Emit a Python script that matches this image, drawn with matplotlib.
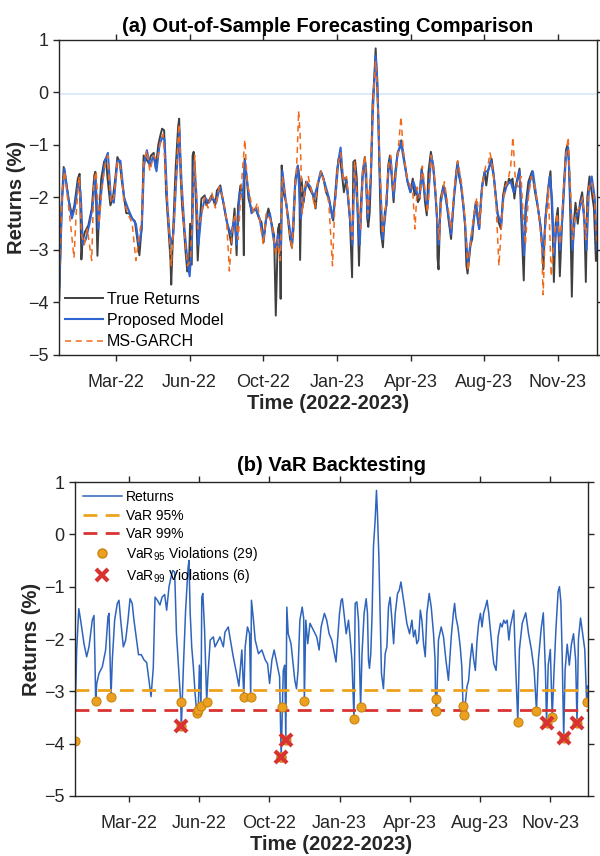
import matplotlib
matplotlib.use("Agg")
import matplotlib.pyplot as plt
from matplotlib.lines import Line2D

plt.rcParams['font.family'] = ['Liberation Sans', 'DejaVu Sans']
plt.rcParams['mathtext.fontset'] = 'custom'
plt.rcParams['mathtext.rm'] = 'Liberation Sans'

# x axis: calendar day index from 1 Jan 2022
tick_days = [77, 177, 277, 377, 477, 577, 677]
tick_labels = ['Mar-22', 'Jun-22', 'Oct-22', 'Jan-23', 'Apr-23', 'Aug-23', 'Nov-23']

# true returns (%)
ret_days = [0, 3, 6, 8.6, 13.4, 17.2, 20.5, 25.2, 27.6, 29, 30, 31.5, 34.7, 39.5, 44.2, 47.5, 49, 50.5,
            51.8, 53.7, 57, 60.8, 63.2, 65.6, 69.4, 72.7, 76, 78.9, 82, 84.5, 88.3, 91, 95, 98.8, 102.6,
            105.9, 108.8, 112, 114.5, 117.8, 121.5, 124.5, 128.2, 131, 134.4, 136.7, 139.6, 142.4, 145,
            148.6, 151, 152, 154.8, 158, 161.4, 162.8, 164.5, 166.7, 169, 171.5, 173.8, 176, 177.6, 179.9,
            181, 182.5, 185, 188, 189.7, 193, 197.5, 199.8, 202, 206.9, 211.7, 214, 218.7, 221, 225.8,
            230.5, 233.8, 238, 240.8, 242.8, 246, 249, 250.6, 251.7, 254.6, 257, 261.7, 266.5, 271.3,
            274.6, 277.5, 280.8, 284, 287.9, 291.7, 294, 295.7, 297, 299, 300.6, 302, 304, 308, 311,
            313.4, 315.8, 318, 320.6, 323.9, 326, 327, 329, 331.8, 335, 339.8, 344.6, 348, 350.8, 355.5,
            358.8, 362.2, 366, 369.8, 372, 374.6, 377, 379.3, 381, 384, 386.5, 389.8, 392, 394.6, 397.6,
            399.3, 401.7, 404, 406, 407, 409, 412, 414.9, 416.8, 418.2, 419.6, 421.5, 423.4, 425.3,
            427.7, 429.6, 431, 433, 434.8, 436.7, 439.5, 442, 444.4, 446.7, 449, 451.6, 454, 456.3,
            459.6, 462, 464.4, 466.7, 469.6, 472.8, 476.7, 480, 482.3, 484.7, 487, 489.5, 492, 494.2,
            496.6, 499, 501.3, 504.6, 507.5, 510.8, 513, 513.6, 515, 517.8, 521.7, 525, 528.4, 532, 536,
            539, 540.8, 542.6, 545.5, 548.8, 551, 552.8, 554.4, 558.4, 560.7, 563, 565.5, 568, 570.3,
            572.7, 575, 577.5, 579.8, 582, 584.6, 587, 589.4, 591.7, 594, 596.5, 599.8, 602.6, 606,
            608.3, 610.7, 613, 615.5, 618, 620, 625, 627, 630.7, 633, 637, 642, 646, 650, 654, 657.3,
            660, 664, 667, 670, 671.6, 674, 677, 679.7, 682, 685, 688, 690, 692, 694, 696, 698, 701,
            704, 707, 710, 713, 715, 717, 720, 723, 726, 728.7, 730]
ret_vals = [-3.95, -2.2, -1.42, -1.64, -2.09, -2.34, -2.15, -1.64, -1.55, -2.4, -3.18, -2.85, -2.66,
            -2.53, -2.21, -1.58, -1.51, -2.4, -3.11, -2.4, -1.64, -1.32, -1.26, -1.64, -2.15, -2.02,
            -1.64, -1.23, -1.32, -1.64, -2.02, -2.3, -2.3, -2.4, -2.45, -2.79, -3.1, -2.55, -1.2, -1.26,
            -1.35, -1.2, -1.15, -1.45, -1.0, -0.85, -0.69, -0.72, -1.9, -2.66, -3.2, -3.66, -2.55, -1.45,
            -0.65, -0.5, -1.5, -2.15, -2.53, -3.04, -3.41, -3.36, -2.5, -3.28, -1.2, -1.13, -1.83, -3.2,
            -2.72, -2.02, -1.96, -2.15, -2.09, -1.96, -2.15, -1.87, -1.77, -1.96, -2.34, -2.66, -2.9,
            -2.21, -3.1, -2.15, -1.77, -1.9, -3.1, -1.26, -1.64, -2.02, -2.28, -2.21, -2.4, -2.47, -2.85,
            -2.4, -2.21, -2.47, -2.72, -4.25, -3.3, -2.6, -2.5, -3.93, -1.39, -1.9, -2.09, -2.47, -2.79,
            -2.95, -2.6, -1.64, -1.39, -1.6, -3.19, -1.64, -2.09, -1.7, -1.83, -1.96, -2.21, -1.77, -1.51,
            -1.64, -1.9, -2.02, -2.28, -2.44, -1.96, -1.51, -1.26, -1.23, -1.58, -1.9, -1.64, -1.96, -2.4,
            -3.52, -1.32, -1.29, -1.64, -2.79, -3.3, -2.28, -1.51, -1.23, -1.51, -2.4, -2.56, -2.28,
            -1.51, -0.24, 0.27, 0.84, 0.4, -0.43, -1.51, -2.66, -2.95, -2.28, -2.15, -1.39, -1.2, -1.64,
            -2.09, -1.51, -1.13, -1.07, -0.91, -1.13, -1.39, -1.7, -1.9, -1.64, -1.96, -1.83, -2.09,
            -2.02, -1.45, -1.64, -2.09, -2.34, -1.51, -1.13, -1.39, -1.9, -2.4, -3.15, -3.37, -2.02,
            -1.77, -1.96, -2.4, -2.79, -1.96, -1.51, -1.32, -1.58, -1.77, -2.15, -2.53, -3.28, -3.45,
            -2.91, -2.79, -2.4, -2.09, -2.4, -2.6, -2.02, -1.7, -1.51, -1.77, -1.51, -1.39, -1.26, -1.51,
            -1.83, -2.15, -2.47, -2.6, -1.96, -1.7, -1.77, -1.64, -1.7, -1.64, -2.02, -1.77, -1.45, -2.3,
            -3.58, -2.2, -1.7, -1.5, -1.9, -2.2, -2.6, -3.37, -2.4, -1.8, -1.5, -2.6, -3.61, -2.5, -2.2,
            -3.5, -2.7, -1.8, -1.1, -1.0, -1.3, -2.4, -3.89, -2.6, -2.1, -2.5, -2.1, -1.9, -2.4, -3.61,
            -2.0, -1.6, -1.9, -2.2, -3.21, -2.9]

# proposed model forecast (%)
prop_days = [0, 4, 7, 12, 17, 21, 26, 29, 32, 36, 41, 45, 49, 53, 57, 62, 66, 70, 74, 79, 83, 88, 93,
             99, 104, 108, 112, 115, 119, 123, 128, 132, 136, 140, 143, 147, 151, 155, 159, 163, 166,
             170, 174, 177, 180, 183, 186, 189, 193, 198, 203, 208, 213, 218, 223, 228, 233, 238, 241,
             245, 249, 252, 256, 261, 267, 272, 277, 281, 286, 291, 294, 297, 301, 303, 307, 312, 316,
             320, 324, 328, 332, 336, 341, 346, 350, 355, 360, 366, 371, 375, 379, 382, 385, 390, 394,
             398, 401, 405, 408, 412, 415, 419, 423, 426, 429.6, 432, 435, 439, 443, 447, 450, 454, 459,
             464, 468, 473, 477, 481, 485, 489, 492, 497, 500, 505, 508, 512, 515, 518, 522, 528, 532,
             536, 541, 546, 551, 555, 558, 563, 566, 570, 574, 578, 582, 586, 590, 595, 600, 603, 608,
             613, 617, 621, 625, 628, 631, 634, 639, 643, 648, 653, 657, 661, 666, 669, 672, 676, 680,
             684, 688, 691, 694, 697, 700, 705, 710, 714, 716, 719, 723, 727, 730]
prop_vals = [-3.7, -2.0, -1.45, -2.0, -2.4, -2.2, -1.7, -1.9, -2.9, -2.8, -2.5, -2.2, -1.6, -2.6, -1.9,
             -1.3, -1.15, -2.0, -2.1, -1.3, -1.3, -2.0, -2.2, -2.4, -2.5, -2.9, -2.6, -1.4, -1.1, -1.4,
             -1.2, -1.5, -1.0, -0.85, -0.9, -2.2, -2.9, -2.7, -1.6, -0.7, -1.7, -2.6, -3.2, -3.5, -2.9,
             -1.3, -1.9, -2.9, -2.3, -2.0, -2.1, -2.0, -2.1, -1.8, -2.1, -2.5, -2.7, -2.4, -2.9, -1.9,
             -2.0, -1.3, -1.8, -2.3, -2.2, -2.4, -2.8, -2.4, -2.3, -2.8, -3.0, -2.7, -3.0, -1.5, -2.0,
             -2.5, -2.9, -1.8, -1.4, -2.4, -2.0, -1.7, -1.8, -2.0, -1.8, -1.5, -1.7, -2.0, -2.4, -2.0,
             -1.3, -1.05, -1.6, -1.7, -2.3, -2.9, -1.4, -2.2, -2.9, -1.6, -1.3, -2.4, -1.6, -0.3, 0.7,
             0.2, -1.4, -2.8, -2.3, -1.5, -1.25, -2.0, -1.2, -0.95, -1.3, -1.7, -1.9, -1.7, -1.9, -2.0,
             -1.5, -2.0, -2.2, -1.2, -1.4, -2.2, -2.9, -2.1, -1.8, -2.3, -2.7, -2.0, -1.35, -1.8, -2.5,
             -3.3, -2.9, -2.4, -2.1, -2.6, -1.8, -1.5, -1.5, -1.3, -1.6, -2.3, -2.5, -2.0, -1.75, -1.7,
             -1.9, -1.75, -1.5, -2.3, -3.1, -2.2, -1.7, -1.5, -2.0, -2.5, -3.1, -2.3, -1.6, -2.0, -3.1,
             -2.4, -3.0, -2.2, -1.2, -1.05, -2.0, -3.0, -2.4, -2.3, -2.0, -2.6, -3.0, -1.9, -1.6, -2.0,
             -3.0]

# MS-GARCH forecast (%)
msg_days = [0, 4, 7, 12, 16, 20, 23, 27, 30, 34, 38, 44, 47, 50, 54, 58, 62, 66, 70, 74, 79, 83, 88,
            93, 99, 104, 108, 112, 115, 119, 123, 128, 133, 137, 141, 145, 149, 152, 156, 159, 162.5,
            166, 170, 174, 178, 181, 184, 188, 192, 197, 202, 207, 212, 217, 222, 227, 231, 235, 239,
            243, 247, 252, 255, 259, 264, 269, 273, 277, 281, 286, 290, 294, 297, 300, 303, 307, 312,
            316, 320, 323, 325, 327, 330, 334, 338, 343, 347, 351, 356, 361, 366, 371, 374, 378, 382,
            386, 390, 394, 398, 401, 405, 409, 412, 415, 419, 423, 426, 429.6, 432, 435, 439, 443, 447,
            450, 454, 459, 462, 464, 467, 472, 477, 480, 483, 486, 490, 493, 497, 500, 505, 509, 513,
            516, 519, 523, 528, 532, 536, 541, 546, 551, 555, 559, 563, 567, 571, 575, 579, 582, 585,
            589, 593, 597, 601, 605, 609, 613, 616, 619, 623, 627, 630, 633, 637, 641, 646, 651, 655,
            657, 660, 664, 668, 672, 676, 680, 684, 688, 691, 694, 697, 701, 706, 711, 715, 719, 723,
            727, 730]
msg_vals = [-3.5, -1.9, -1.5, -2.1, -2.6, -3.15, -2.3, -1.6, -2.7, -2.9, -2.6, -3.2, -1.7, -1.5, -2.5,
            -1.8, -1.4, -1.2, -2.1, -2.0, -1.3, -1.4, -2.1, -2.3, -2.5, -3.2, -2.8, -2.4, -1.3, -1.1,
            -1.5, -1.2, -1.3, -0.95, -0.8, -1.7, -2.6, -3.3, -2.4, -1.5, -0.6, -1.8, -2.7, -3.3, -3.2,
            -2.3, -1.2, -2.6, -2.4, -2.0, -2.2, -1.9, -2.2, -1.8, -2.0, -2.4, -3.4, -2.6, -2.3, -2.8,
            -1.8, -0.9, -1.7, -2.0, -2.3, -2.1, -2.5, -2.9, -2.3, -2.4, -2.6, -3.1, -2.8, -3.2, -1.6,
            -2.0, -2.6, -3.0, -1.9, -1.2, -0.35, -0.8, -2.3, -1.8, -1.6, -1.9, -2.2, -1.7, -1.5, -1.8,
            -2.1, -3.3, -2.2, -1.4, -1.15, -1.7, -1.6, -2.2, -2.8, -1.3, -2.1, -2.6, -1.5, -1.2, -2.3,
            -1.5, -0.2, 0.6, 0.0, -1.3, -2.7, -2.2, -1.4, -1.2, -1.9, -1.3, -0.8, -0.46, -1.1, -1.6,
            -1.8, -1.9, -2.6, -1.8, -2.0, -1.4, -1.9, -2.3, -1.2, -1.5, -2.3, -2.8, -2.0, -1.7, -2.2,
            -2.6, -1.9, -1.3, -1.7, -2.4, -3.4, -2.8, -2.3, -2.0, -2.5, -1.7, -1.4, -1.4, -1.15, -1.5,
            -2.1, -3.3, -2.4, -1.8, -1.7, -1.4, -0.85, -1.6, -1.8, -1.6, -2.4, -2.9, -2.0, -1.6, -1.8,
            -2.3, -2.9, -3.85, -2.6, -1.8, -3.5, -2.8, -2.3, -2.9, -2.0, -1.2, -0.85, -1.8, -2.8, -2.3,
            -2.2, -2.0, -2.8, -1.8, -1.7, -2.1, -2.9]

ref_level = -0.02  # faint reference line in panel (a)

var95 = -2.97
var99 = -3.36

v95_days = [0, 30, 51.8, 151, 173.8, 176, 179.9, 188, 240.8, 250.6, 295.7, 327, 397.6, 407, 513.6,
            515, 552.8, 554.4, 630.7, 657.3, 679.7, 728.7, 152, 294, 300.6, 671.6, 696, 715, 294]
v95_vals = [-3.95, -3.18, -3.11, -3.2, -3.41, -3.36, -3.28, -3.2, -3.1, -3.1, -3.3, -3.19, -3.52,
            -3.3, -3.15, -3.37, -3.28, -3.45, -3.58, -3.37, -3.5, -3.21, -3.66, -4.25, -3.93, -3.61,
            -3.89, -3.61, -4.25]
v99_days = [152, 294, 300.6, 671.6, 696, 715]
v99_vals = [-3.66, -4.25, -3.93, -3.61, -3.89, -3.61]

dark = '#262626'


def style_axes(ax):
    ax.set_xlim(0, 730)
    ax.set_ylim(-5, 1)
    ax.set_xticks(tick_days)
    ax.set_xticklabels(tick_labels)
    ax.set_yticks(range(-5, 2))
    ax.tick_params(direction='out', length=4, width=1, color=dark, labelcolor=dark,
                   labelsize=13, top=True, right=True)
    ax.tick_params(axis='x', pad=10)
    for s in ax.spines.values():
        s.set_color(dark)
        s.set_linewidth(1)
    ax.set_xlabel('Time (2022-2023)', fontsize=14.5, fontweight='bold', color=dark, labelpad=2)
    ax.set_ylabel('Returns (%)', fontsize=14.5, fontweight='bold', color=dark, labelpad=2)


fig = plt.figure(figsize=(6, 8.56), dpi=100)

# (a)
ax1 = fig.add_axes([0.0988, 0.5853, 0.896, 0.368])
ax1.axhline(ref_level, color='#d6e6f8', lw=1.2)
ax1.plot(ret_days, ret_vals, color='#404040', lw=1.4, label='True Returns')
ax1.plot(prop_days, prop_vals, color='#2f66d4', lw=1.5, label='Proposed Model')
ax1.plot(msg_days, msg_vals, color='#f26a1b', lw=1.1, ls=(0, (4, 3)), label='MS-GARCH')
style_axes(ax1)
ax1.set_title('(a) Out-of-Sample Forecasting Comparison', fontsize=14.5, fontweight='bold',
              color='black', pad=6)
ax1.legend(loc='lower left', frameon=False, fontsize=11.5, handlelength=2.4,
           handletextpad=0.25, labelspacing=0.4, borderaxespad=0.05, borderpad=0.3)

# (b)
ax2 = fig.add_axes([0.1243, 0.0701, 0.855, 0.3668])
ax2.plot(ret_days, ret_vals, color='#2f64bd', lw=1.1)
ax2.axhline(var95, color='#eea21c', lw=2, ls=(0, (5, 3)))
ax2.axhline(var99, color='#d93232', lw=2, ls=(0, (5, 3)))
ax2.plot(v95_days, v95_vals, 'o', ms=6.5, mfc='#eba020', mec='#c98512', mew=0.8, ls='none')
ax2.plot(v99_days, v99_vals, 'x', ms=8, color='#d93232', mew=3, ls='none')
style_axes(ax2)
ax2.set_title('(b) VaR Backtesting', fontsize=14.5, fontweight='bold', color='black', pad=8)

handles = [
    Line2D([], [], color='#2f64bd', lw=1.1),
    Line2D([], [], color='#eea21c', lw=2, ls=(0, (5, 3))),
    Line2D([], [], color='#d93232', lw=2, ls=(0, (5, 3))),
    Line2D([], [], marker='o', ms=6.5, mfc='#eba020', mec='#c98512', ls='none'),
    Line2D([], [], marker='x', ms=8, color='#d93232', mew=3, ls='none'),
]
labels = ['Returns', 'VaR 95%', 'VaR 99%',
          r'VaR$_{\mathregular{95}}$ Violations (29)', r'VaR$_{\mathregular{99}}$ Violations (6)']
ax2.legend(handles, labels, loc='upper left', frameon=False, fontsize=10, handlelength=2.8,
           handletextpad=0.3, labelspacing=0.3, borderaxespad=0.2)

fig.savefig('out.png', dpi=100)
